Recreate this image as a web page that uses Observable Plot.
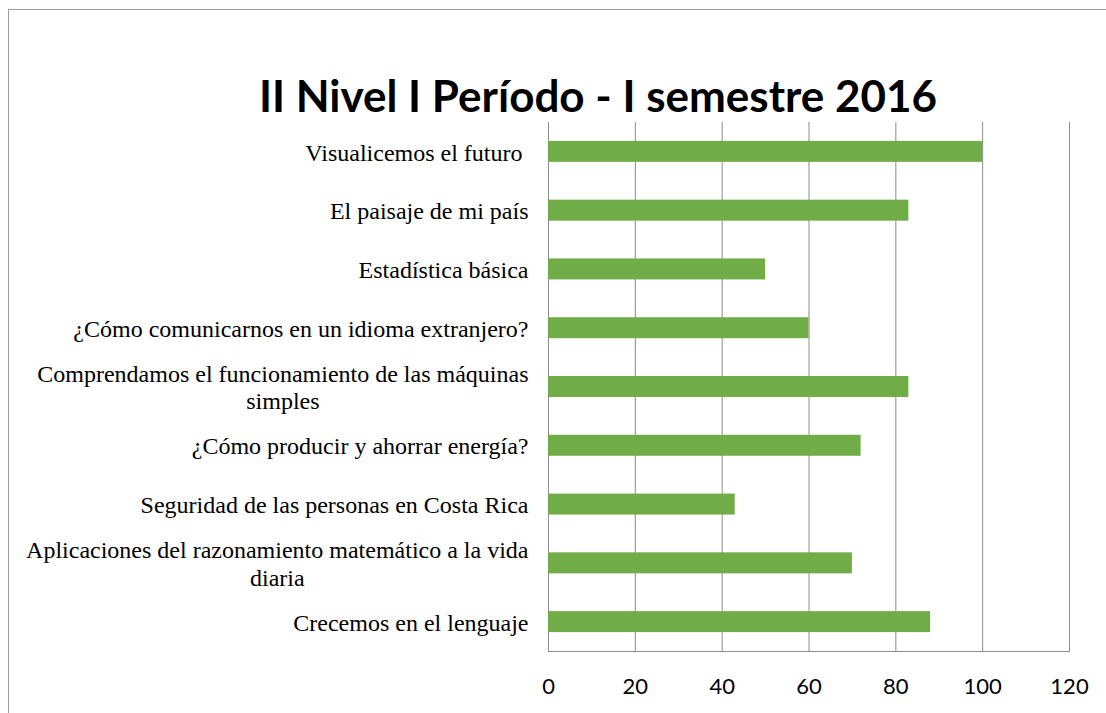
<!DOCTYPE html>
<html>
<head>
<meta charset="utf-8">
<script src="https://cdn.jsdelivr.net/npm/d3@7"></script>
<script src="https://cdn.jsdelivr.net/npm/@observablehq/plot@0.6"></script>
<style>
  html, body { margin: 0; padding: 0; background: #fff; }
  #wrap { position: relative; width: 1106px; height: 713px; overflow: hidden; background: #fff; }
  #border { position: absolute; left: 8px; top: 9px; width: 1200px; height: 800px; border: 1.5px solid #a0a0a0; box-sizing: border-box; }
  #title { position: absolute; left: 598px; top: 71px; transform: translateX(-50%); white-space: nowrap;
           font-family: Lato, "Open Sans", sans-serif; font-weight: bold; font-size: 44px; line-height: 48px; color: #000; }
  #chart { position: absolute; left: 0; top: 0; }
  #chart svg text { white-space: pre; }
</style>
</head>
<body>
<div id="wrap">
  <div id="border"></div>
  <div id="chart"></div>
  <div id="title">II Nivel I Período - I semestre 2016</div>
</div>
<script>
const categories = [
  "Visualicemos el futuro ",
  "El paisaje de mi país",
  "Estadística básica",
  "¿Cómo comunicarnos en un idioma extranjero?",
  "Comprendamos el funcionamiento de las máquinas simples",
  "¿Cómo producir y ahorrar energía?",
  "Seguridad de las personas en Costa Rica",
  "Aplicaciones del razonamiento matemático a la vida diaria",
  "Crecemos en el lenguaje"
];
const values = [100, 83, 50, 60, 83, 72, 43, 70, 88];
const xTicks = [0, 20, 40, 60, 80, 100, 120];

const data = categories.map((c, i) => ({category: c, value: values[i]}));

const labelFontSize = 24;
const labelFont = labelFontSize + "px 'Liberation Serif'";
const wrapWidth = 520;
const labelGap = 20;
const ctx = document.createElement("canvas").getContext("2d");
ctx.font = labelFont;
function wrap(text) {
  const words = text.split(" ");
  const lines = [];
  let cur = "";
  for (const w of words) {
    const test = cur === "" ? w : cur + " " + w;
    if (ctx.measureText(test.trimEnd()).width > wrapWidth && cur !== "") {
      lines.push(cur);
      cur = w;
    } else cur = test;
  }
  lines.push(cur);
  return lines;
}

const labelMarks = data.map(d => {
  const lines = wrap(d.category);
  const w = Math.max(...lines.map(l => ctx.measureText(l).width));
  return Plot.text([d], {
    y: "category",
    text: () => lines.join("\n"),
    frameAnchor: "left",
    textAnchor: "middle",
    dx: -(labelGap + w / 2),
    lineHeight: 1.13,
    fontSize: labelFontSize,
    fontFamily: "Liberation Serif",
    fill: "#000"
  });
});

const chart = Plot.plot({
  width: 1106,
  height: 713,
  marginTop: 122,
  marginBottom: 62,
  marginLeft: 548,
  marginRight: 37,
  style: {background: "transparent", overflow: "visible"},
  x: {domain: [0, 120], ticks: xTicks, label: null},
  y: {domain: categories, paddingInner: 0.643, paddingOuter: 0.3215, round: false, axis: null},
  marks: [
    Plot.gridX(xTicks, {stroke: "#8c8c8c", strokeOpacity: 1, strokeWidth: 1}),
    Plot.frame({anchor: "bottom", stroke: "#8c8c8c", strokeWidth: 1}),
    Plot.barX(data, {x: "value", y: "category", fill: "#70AD47"}),
    Plot.axisX(xTicks, {tickSize: 0, tickPadding: 27, fontSize: 22, fontFamily: "Lato", fill: "#000", label: null, tickFormat: d => String(d)}),
    ...labelMarks
  ]
});
document.getElementById("chart").appendChild(chart);
</script>
</body>
</html>
